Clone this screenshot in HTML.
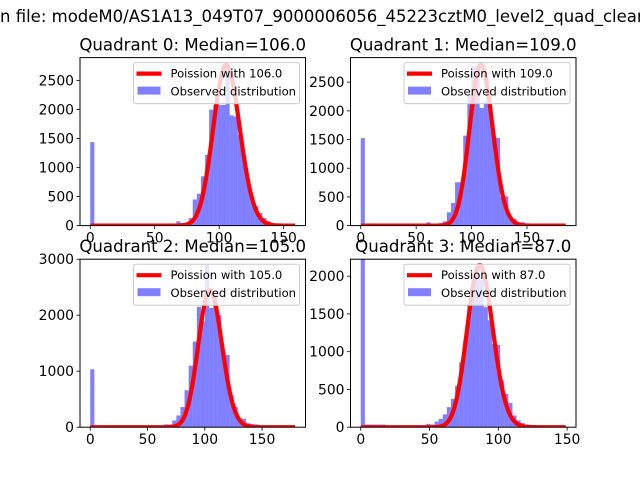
<!DOCTYPE html>
<html><head><meta charset="utf-8"><style>
html,body{margin:0;padding:0;background:#fff;}
svg{display:block;font-family:"DejaVu Sans","Liberation Sans",sans-serif;}
</style></head><body>
<svg id="fig" width="640" height="480" viewBox="0 0 640 480">
<text x="0" y="22" font-size="16.5" fill="#000">n file: modeM0/AS1A13_049T07_9000006056_45223cztM0_level2_quad_clean</text>
</svg>
<script>
// ---- data ----
const medians = [106.0, 109.0, 105.0, 87.0];
const curvePeaks = [2770, 2800, 2450, 2145];
const dataMax = [159, 185, 179, 149];
const yMax = [2897, 2928, 3000, 2225];
const xTicks = [0, 50, 100, 150];
const yTicks0 = [0, 500, 1000, 1500, 2000, 2500];
const yTicks1 = [0, 500, 1000, 1500, 2000, 2500];
const yTicks2 = [0, 1000, 2000, 3000];
const yTicks3 = [0, 500, 1000, 1500, 2000];
const counts0 = {0:1440,20:20,21:75,22:45,23:45,24:130,25:450,26:550,27:850,28:1220,29:2000,30:2080,31:2080,32:2080,33:2760,34:1900,35:1880,36:1565,37:1200,38:790,39:505,40:333,41:218,42:130,43:75,44:30,45:15};
const counts1 = {0:1525,16:58,17:35,18:35,19:40,20:75,21:232,22:395,23:755,24:755,25:1568,26:2300,27:2775,28:2775,29:2050,30:2165,31:2165,32:1528,33:1528,34:510,35:510,36:117,37:117,38:58,39:58};
const counts2 = {0:1035,18:50,19:50,20:120,21:210,22:360,23:660,24:1100,25:1530,26:2150,27:1890,28:2900,29:2130,30:2280,31:2000,32:1350,33:1290,34:570,35:360,36:160,37:150,38:70,39:60,40:50,41:30};
const counts3 = {0:2700,1:35,2:35,3:35,4:35,5:35,16:45,17:35,18:75,19:110,20:170,21:265,22:375,23:550,24:860,25:1150,26:1640,27:1950,28:2100,29:1950,30:1590,31:1415,32:1100,33:1090,34:620,35:440,36:320,37:155,38:90,39:55,40:35,41:20};
const allCounts = [counts0, counts1, counts2, counts3];
const allYTicks = [yTicks0, yTicks1, yTicks2, yTicks3];
const nBins = 50;

const NS = "http://www.w3.org/2000/svg";
const fig = document.getElementById('fig');
function mk(tag, attrs, parent){const e=document.createElementNS(NS,tag);for(const k in attrs)e.setAttribute(k,attrs[k]);(parent||fig).appendChild(e);return e;}

const boxes = [[80,57.6],[350.5,57.6],[80,259.2],[350.5,259.2]];
const W = 225.5, H = 168;

for(let q=0;q<4;q++){
  const [L,T] = boxes[q];
  const D = dataMax[q];
  const xmin = -0.05*D, xmax = 1.05*D;
  const X = v => L + (v - xmin)/(xmax - xmin)*W;
  const Y = v => T + H - v/yMax[q]*H;
  const g = mk('g',{});
  
  
  const cid='clip'+q;
  const cp = mk('clipPath',{id:cid},g);
  mk('rect',{x:L,y:T,width:W,height:H},cp);
  const plot = mk('g',{'clip-path':'url(#'+cid+')'},g);
  const bw = D/nBins;
  const counts = allCounts[q];
  for(let i=0;i<nBins;i++){
    const c = counts[i]||0; if(!c) continue;
    const r = mk('rect',{x:X(i*bw),y:Y(c),width:X((i+1)*bw)-X(i*bw),height:Y(0)-Y(c),fill:'#0000ff','fill-opacity':0.5},plot);
    
    
  }
  const lam = medians[q];
  let p = Math.exp(-lam), pts=[], pmax=0, arr=[];
  for(let k=0;k<=Math.floor(D);k++){ if(k>0)p*=lam/k; arr.push(p); if(p>pmax)pmax=p; }
  for(let k=0;k<arr.length;k++) pts.push(X(k).toFixed(2)+','+Y(arr[k]/pmax*curvePeaks[q]).toFixed(2));
  const pl = mk('polyline',{points:pts.join(' '),fill:'none',stroke:'#ff0000','stroke-width':4.2,'stroke-linejoin':'round'},plot);
  
  
  const fr = mk('rect',{x:L,y:T,width:W,height:H,fill:'none',stroke:'#000','stroke-width':1},g);
  
  
  xTicks.forEach(t=>{
    mk('line',{x1:X(t),x2:X(t),y1:T+H,y2:T+H+3.5,stroke:'#000','stroke-width':0.8},g);
    const tx = mk('text',{x:X(t),y:T+H+17,'font-size':13.9,'text-anchor':'middle'},g);
    tx.textContent = t;
    
    
  });
  allYTicks[q].forEach(t=>{
    mk('line',{x1:L-3.5,x2:L,y1:Y(t),y2:Y(t),stroke:'#000','stroke-width':0.8},g);
    const ty = mk('text',{x:L-6,y:Y(t)+5,'font-size':13.9,'text-anchor':'end'},g);
    ty.textContent = t;
    
    
  });
  const ti = mk('text',{x:L+W/2,y:T-7,'font-size':16.6,'text-anchor':'middle'},g);
  ti.textContent = 'Quadrant '+q+': Median='+medians[q].toFixed(1);
  
  
  const lg = mk('g',{},g);
  
  
  const lx = L+W-172, ly = T+5;
  mk('rect',{x:lx,y:ly,width:166,height:41,rx:2,fill:'#fff','fill-opacity':0.8,stroke:'#ccc','stroke-width':1},lg);
  mk('line',{x1:lx+3,x2:lx+28,y1:ly+11,y2:ly+11,stroke:'#ff0000','stroke-width':4.2},lg);
  const l1 = mk('text',{x:lx+37,y:ly+15,'font-size':11.6},lg);
  l1.textContent = 'Poission with '+medians[q].toFixed(1);
  
  
  mk('rect',{x:lx+4,y:ly+24,width:23,height:8,fill:'#0000ff','fill-opacity':0.5},lg);
  const l2 = mk('text',{x:lx+37,y:ly+33,'font-size':11.6},lg);
  l2.textContent = 'Observed distribution';
  
  
}
</script>
</body></html>
